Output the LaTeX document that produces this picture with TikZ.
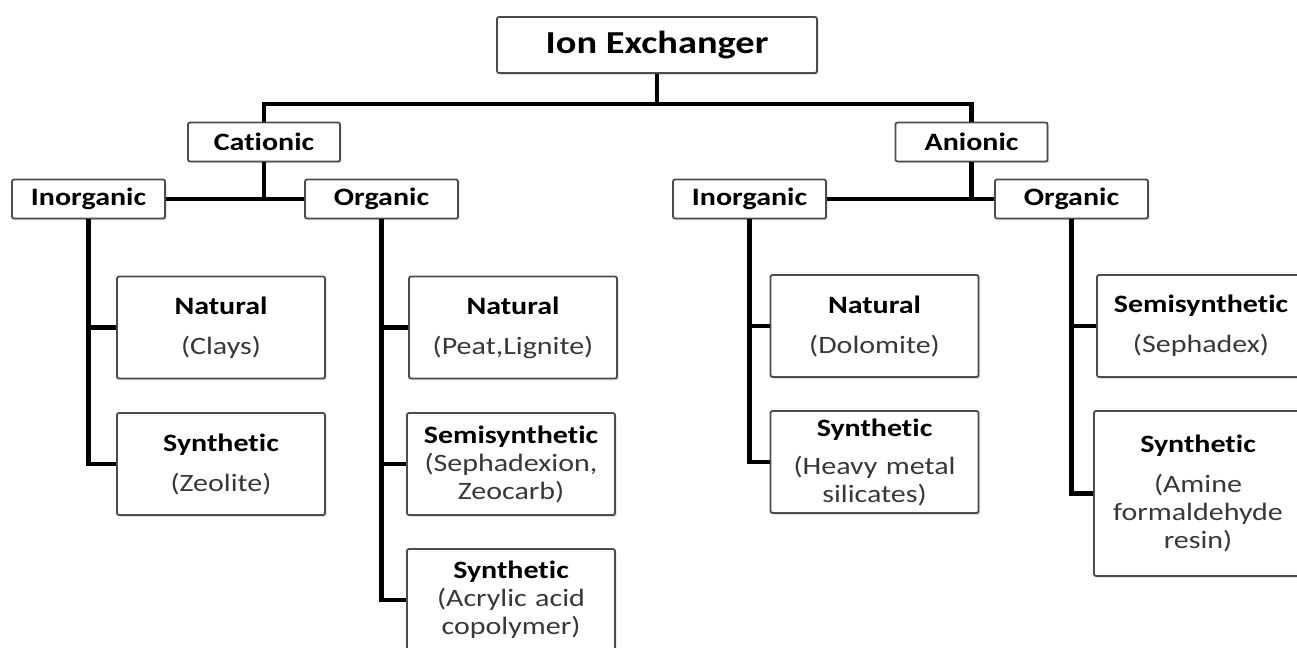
\documentclass[tikz,border=0pt]{standalone}
\usepackage{fontspec}
\setmainfont{Carlito}[FakeStretch=1.2, Ligatures=NoCommon]
\usetikzlibrary{shadows}
\newcommand\exfont{\mdseries\color{black!78}}

\begin{document}
\begin{tikzpicture}[x=0.5pt, y=-0.5pt,
  box/.style = {shape=rectangle, rounded corners=1pt, draw=black!70,
    line width=0.9pt, fill=white, align=center, inner sep=2pt,
    font=\fontsize{12.5}{14}\selectfont\bfseries,
    drop shadow={shadow xshift=0.8pt, shadow yshift=-0.9pt, opacity=0.25}},
  head/.style = {box, minimum width=76.5pt, minimum height=19.5pt},
  leaf/.style = {box, text width=100pt, minimum height=51pt},
  link/.style = {line width=2.2pt}]
  \useasboundingbox (0,0) rectangle (1297,648);

  \node[box, minimum width=160pt, minimum height=28pt,
    font=\fontsize{16}{19}\selectfont\bfseries] (ion) at (657,45) {Ion Exchanger};

  \node[head, minimum width=76pt] (cat) at (264,142) {Cationic};
  \node[head, minimum width=76pt] (ani) at (971.5,142) {Anionic};

  \node[head] (cinorg) at (88.5,199) {Inorganic};
  \node[head] (corg) at (381.5,199) {Organic};
  \node[head] (ainorg) at (749.5,199) {Inorganic};
  \node[head] (aorg) at (1071.5,199) {Organic};

  \node[leaf] (cnat) at (221,327.5) {Natural\\[6pt]\exfont (Clays)};
  \node[leaf] (csyn) at (221,464) {Synthetic\\[6pt]\exfont (Zeolite)};

  \node[leaf] (onat) at (513,327.5) {Natural\\[6pt]\exfont (Peat,Lignite)};
  \node[leaf] (osemi) at (511,464) {Semisynthetic\\\exfont (Sephadexion,\\Zeocarb)};
  \node[leaf] (osyn) at (511,600) {Synthetic\\\exfont (Acrylic acid\\copolymer)};

  \node[leaf] (anat) at (874.5,326) {Natural\\[6pt]\exfont (Dolomite)};
  \node[leaf] (asyn) at (874.5,462) {Synthetic\\[5pt]\exfont (Heavy metal\\silicates)};

  \node[leaf] (asemi) at (1201,326) {Semisynthetic\\[6pt]\exfont (Sephadex)};
  \node[leaf, minimum height=82.5pt] (aresin) at (1198,493.5)
    {Synthetic\\[6pt]\exfont (Amine\\formaldehyde\\resin)};

  \coordinate (split) at (657,104);
  \draw[link] (ion) -- (split) -| (cat);
  \draw[link] (split) -| (ani);

  \draw[link] (cat) -- (cat |- cinorg);
  \draw[link] (cinorg) -- (corg);
  \draw[link] (ani) -- (ani |- ainorg);
  \draw[link] (ainorg) -- (aorg);

  \draw[link] (cinorg) |- (cnat);
  \draw[link] (cinorg) |- (csyn);
  \draw[link] (corg) |- (onat);
  \draw[link] (corg) |- (osemi);
  \draw[link] (corg) |- (osyn);
  \draw[link] (ainorg) |- (anat);
  \draw[link] (ainorg) |- (asyn);
  \draw[link] (aorg) |- (asemi);
  \draw[link] (aorg) |- (aresin);
\end{tikzpicture}
\end{document}
